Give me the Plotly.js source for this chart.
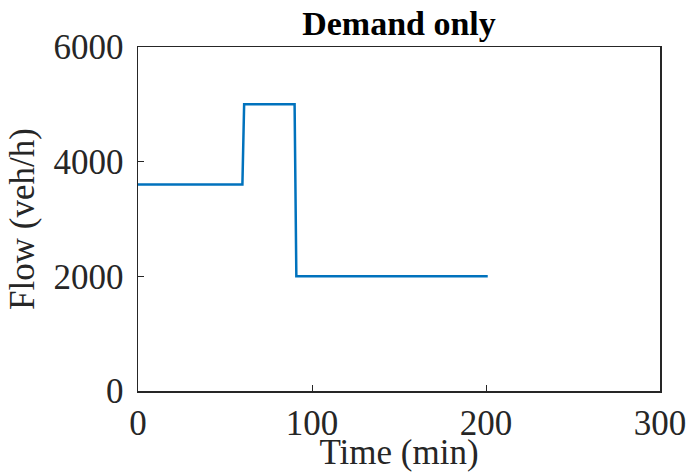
<!DOCTYPE html>
<html><head><meta charset="utf-8">
<script src="https://cdn.plot.ly/plotly-3.0.1.min.js"></script>
<style>html,body{margin:0;padding:0;background:#fff}#c{width:691px;height:472px}</style>
</head><body><div id="c"></div>
<script>
const timeMin = [0, 60, 61, 90, 91, 201];
const flowVeh = [3600, 3600, 5000, 5000, 2000, 2000];
const xTicks = [0, 100, 200, 300];
const yTicks = [0, 2000, 4000, 6000];

const font = {family: 'Liberation Serif, Times New Roman, serif', color: '#262626'};
Plotly.newPlot('c', [{
  x: timeMin, y: flowVeh, mode: 'lines', type: 'scatter',
  line: {color: '#0072BD', width: 2.5}
}], {
  width: 691, height: 472,
  margin: {l: 138, r: 31, t: 47, b: 81},
  paper_bgcolor: '#fff', plot_bgcolor: '#fff',
  showlegend: false,
  title: {text: '<b>Demand only</b>', xref: 'paper', x: 0.5, xanchor: 'center', yref: 'container', y: 0.952, yanchor: 'middle',
    font: Object.assign({}, font, {size: 34, color: '#000'})},
  xaxis: {range: [0, 300], tickvals: xTicks, ticktext: xTicks.map(String),
    ticks: 'inside', ticklen: 6, tickcolor: '#262626', showgrid: false, zeroline: false,
    showline: true, linecolor: '#262626', linewidth: 1.5, mirror: true,
    tickfont: Object.assign({}, font, {size: 35}), ticklabelstandoff: 0,
    title: {text: 'Time (min)', font: Object.assign({}, font, {size: 35}), standoff: 4}},
  yaxis: {range: [0, 6000], tickvals: yTicks, ticktext: yTicks.map(String),
    ticks: 'inside', ticklen: 6, tickcolor: '#262626', showgrid: false, zeroline: false,
    showline: true, linecolor: '#262626', linewidth: 1.5, mirror: true,
    tickfont: Object.assign({}, font, {size: 35}), ticklabelstandoff: 6,
    title: {text: 'Flow (veh/h)', font: Object.assign({}, font, {size: 35}), standoff: 8}}
}, {displayModeBar: false, staticPlot: true});
</script></body></html>
